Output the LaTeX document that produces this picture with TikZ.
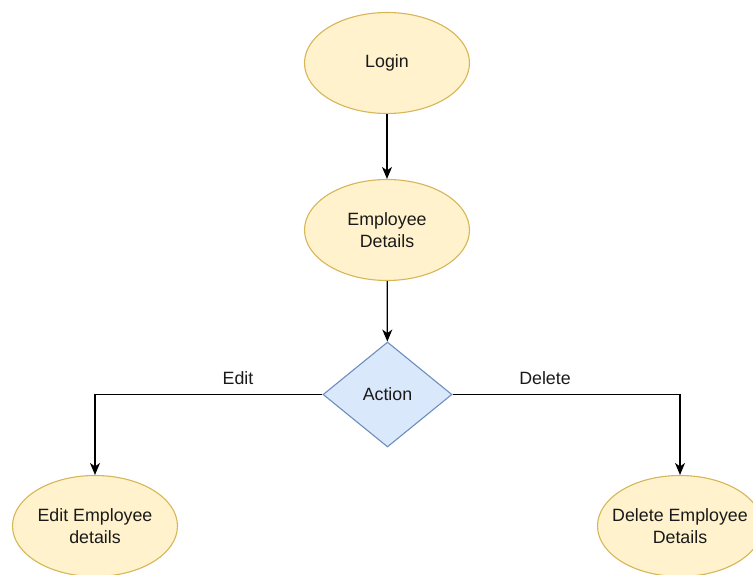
\documentclass[tikz,border=0pt]{standalone}
\usepackage{fontspec}
\setmainfont{Liberation Sans}
\usetikzlibrary{shapes.geometric,arrows.meta}
\definecolor{ybg}{HTML}{FFF2CC}
\definecolor{yline}{HTML}{D6B656}
\definecolor{bbg}{HTML}{DAE8FC}
\definecolor{bline}{HTML}{6C8EBF}
\definecolor{ink}{HTML}{1A1A1A}
\tikzset{
  txt/.style={font=\fontsize{17.8}{22}\selectfont, text=ink, align=center, inner sep=0pt},
  % the oval keeps its size; its caption is a centred label so long text may overhang
  stepoval/.style 2 args={ellipse, draw=yline, fill=ybg, line width=1.1pt,
    minimum width=165pt, minimum height=101pt, inner sep=0pt,
    label={[txt]center:{#2}}},
  choice/.style={diamond, draw=bline, fill=bbg, line width=1.1pt,
    minimum width=129pt, minimum height=105pt, inner sep=0pt, txt},
  flow/.style={draw=black, line width=1.3pt,
    -{Stealth[length=12pt, width=10pt, inset=3.5pt]}},
}
\begin{document}
\begin{tikzpicture}[x=1pt, y=-1pt]
  \useasboundingbox (0,0) rectangle (753,575);
  \clip (0,0) rectangle (753,575);
  \node[stepoval={}{Login}] (login) at (387,63) {};
  \node[stepoval={}{Employee\\Details}] (emp) at (387,230) {};
  \node[choice] (act) at (387.5,394.5) {Action};
  \node[stepoval={}{Edit Employee\\details}] (edit) at (95,526) {};
  \node[stepoval={}{Delete Employee\\Details}] (del) at (680,526) {};
  \draw[flow] (login) -- (emp);
  \draw[flow] (emp) -- (act);
  \draw[flow] (act.west) -| (edit.north);
  \draw[flow] (act.east) -| (del.north);
  \node[txt] (ledit) at (238,378) {Edit};
  \node[txt] (ldel) at (545,378) {Delete};
\end{tikzpicture}
\end{document}
